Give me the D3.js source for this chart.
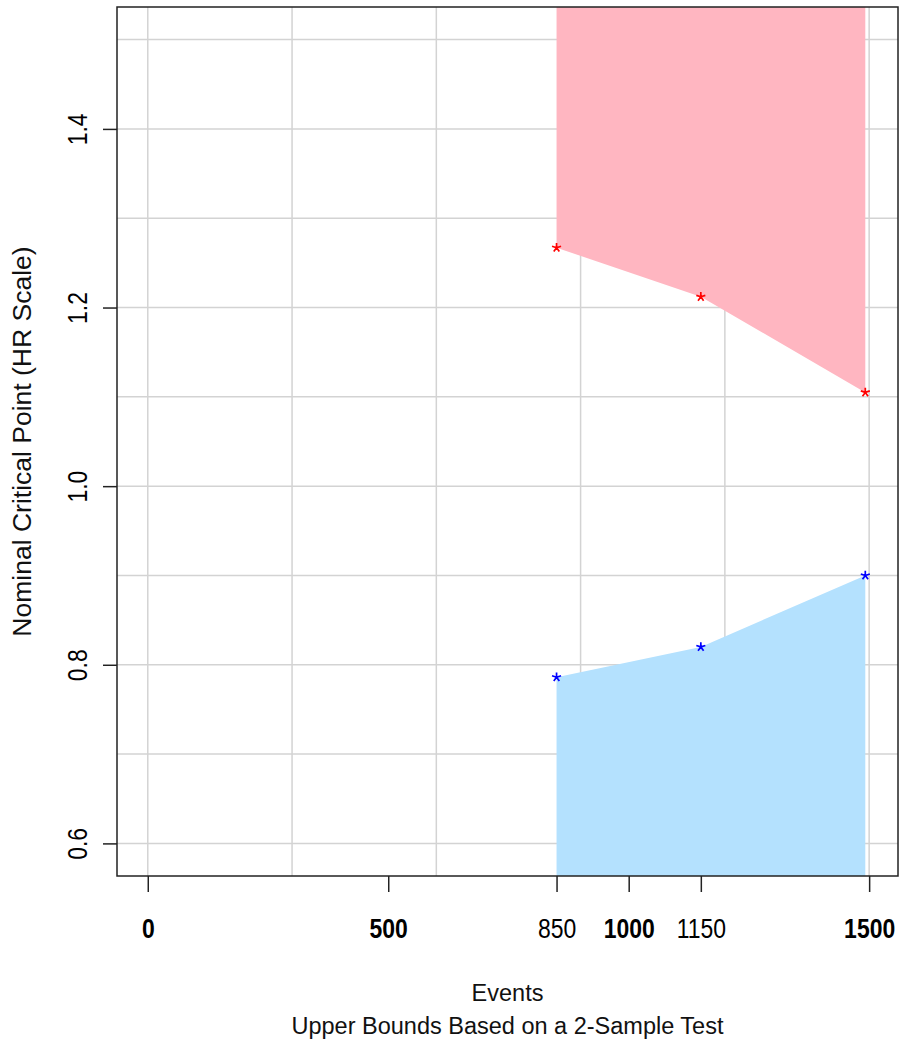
<!DOCTYPE html>
<html>
<head>
<meta charset="utf-8">
<script src="https://cdn.jsdelivr.net/npm/d3@7"></script>
<style>
  body { margin: 0; background: #fff; }
  text { font-family: "Liberation Sans", Arial, sans-serif; fill: #000; }
</style>
</head>
<body>
<svg id="chart" width="901" height="1042"></svg>
<script>
// Analyses (cumulative events) and nominal HR boundaries
const analysisEvents = [850, 1150, 1492];
const upperBound = [1.267, 1.212, 1.105];
const lowerBound = [0.786, 0.820, 0.900];

// Axis ticks and grid
const xTickValues = [0, 500, 850, 1000, 1150, 1500];
const xTickBold = [0, 500, 1000, 1500];
const xGridValues = [0, 300, 600, 900, 1200, 1500];
const yTickValues = [0.6, 0.8, 1.0, 1.2, 1.4];
const yGridValues = [0.6, 0.7, 0.8, 0.9, 1.0, 1.1, 1.2, 1.3, 1.4, 1.5];

const xTitle = "Events";
const subTitle = "Upper Bounds Based on a 2-Sample Test";
const yTitle = "Nominal Critical Point (HR Scale)";

const plot = { left: 117, right: 898, top: 7, bottom: 876 };

const svg = d3.select("#chart");

const x = d3.scaleLinear().domain([-64, 1560]).range([plot.left, plot.right]);
const y = d3.scaleLinear().domain([0.5635, 1.5365]).range([plot.bottom, plot.top]);

svg.append("defs").append("clipPath").attr("id", "plotClip")
  .append("rect")
  .attr("x", plot.left).attr("y", plot.top)
  .attr("width", plot.right - plot.left).attr("height", plot.bottom - plot.top);

// Grid
const grid = svg.append("g").attr("stroke", "#d3d3d3").attr("stroke-width", 1.5);
grid.selectAll("line.v").data(xGridValues).join("line")
  .attr("class", "v")
  .attr("x1", d => x(d)).attr("x2", d => x(d))
  .attr("y1", plot.top).attr("y2", plot.bottom);
grid.selectAll("line.h").data(yGridValues).join("line")
  .attr("class", "h")
  .attr("x1", plot.left).attr("x2", plot.right)
  .attr("y1", d => y(d)).attr("y2", d => y(d));

const pts = analysisEvents.map((e, i) => ({ e, hi: upperBound[i], lo: lowerBound[i] }));
const fills = svg.append("g").attr("clip-path", "url(#plotClip)");

// Region above the upper bound
fills.append("path")
  .datum(pts)
  .attr("fill", "#FFB6C1")
  .attr("d", d3.area()
    .x(d => x(d.e))
    .y0(() => y(y.domain()[1]))
    .y1(d => y(d.hi)));

// Region below the lower bound
fills.append("path")
  .datum(pts)
  .attr("fill", "#B4E1FE")
  .attr("d", d3.area()
    .x(d => x(d.e))
    .y0(() => y(y.domain()[0]))
    .y1(d => y(d.lo)));

// Five-armed asterisk marker
const asterisk = {
  draw(ctx, size) {
    const r = Math.sqrt(size) / 2;
    for (let i = 0; i < 5; i++) {
      const a = -Math.PI / 2 + i * 2 * Math.PI / 5;
      ctx.moveTo(0, 0);
      ctx.lineTo(r * Math.cos(a), r * Math.sin(a));
    }
  }
};
const star = d3.symbol().type(asterisk).size(90);

svg.append("g").selectAll("path").data(pts).join("path")
  .attr("transform", d => `translate(${x(d.e)},${y(d.hi)})`)
  .attr("d", star).attr("fill", "none")
  .attr("stroke", "#FF0000").attr("stroke-width", 1.7);

svg.append("g").selectAll("path").data(pts).join("path")
  .attr("transform", d => `translate(${x(d.e)},${y(d.lo)})`)
  .attr("d", star).attr("fill", "none")
  .attr("stroke", "#0000FF").attr("stroke-width", 1.7);

// Plot frame
svg.append("rect")
  .attr("x", plot.left).attr("y", plot.top)
  .attr("width", plot.right - plot.left).attr("height", plot.bottom - plot.top)
  .attr("fill", "none").attr("stroke", "#222").attr("stroke-width", 1.5);

// X axis
const xAxis = svg.append("g")
  .attr("transform", `translate(0,${plot.bottom})`)
  .call(d3.axisBottom(x).tickValues(xTickValues).tickSize(16).tickSizeOuter(0)
    .tickFormat(d3.format("d")));
xAxis.select(".domain").remove();
xAxis.selectAll(".tick line").attr("stroke", "#222").attr("stroke-width", 1.5);
xAxis.selectAll(".tick text")
  .attr("y", null).attr("dy", null)
  .attr("transform", "translate(0,62) scale(0.82,1)")
  .attr("text-anchor", "middle")
  .style("font-size", "28px")
  .style("font-weight", d => xTickBold.includes(d) ? "bold" : "normal")
  .style("fill", "#000");

// Y axis
const yAxis = svg.append("g")
  .attr("transform", `translate(${plot.left},0)`)
  .call(d3.axisLeft(y).tickValues(yTickValues).tickSize(14).tickSizeOuter(0)
    .tickFormat(d3.format(".1f")));
yAxis.select(".domain").remove();
yAxis.selectAll(".tick line").attr("stroke", "#222").attr("stroke-width", 1.5);
yAxis.selectAll(".tick text")
  .attr("x", null).attr("dy", null)
  .attr("transform", "translate(-30,0) rotate(-90) scale(0.82,1)")
  .attr("text-anchor", "middle")
  .style("font-size", "28px")
  .style("fill", "#000");

// Titles
const cx = (plot.left + plot.right) / 2;
svg.append("text").attr("x", cx).attr("y", 1001)
  .attr("text-anchor", "middle").style("font-size", "23.5px").style("fill", "#111")
  .text(xTitle);
svg.append("text").attr("x", cx).attr("y", 1034)
  .attr("text-anchor", "middle").style("font-size", "23.5px").style("fill", "#111")
  .text(subTitle);
svg.append("text")
  .attr("transform", `translate(31,${(plot.top + plot.bottom) / 2}) rotate(-90)`)
  .attr("text-anchor", "middle").style("font-size", "26.5px").style("fill", "#111")
  .text(yTitle);
</script>
</body>
</html>
